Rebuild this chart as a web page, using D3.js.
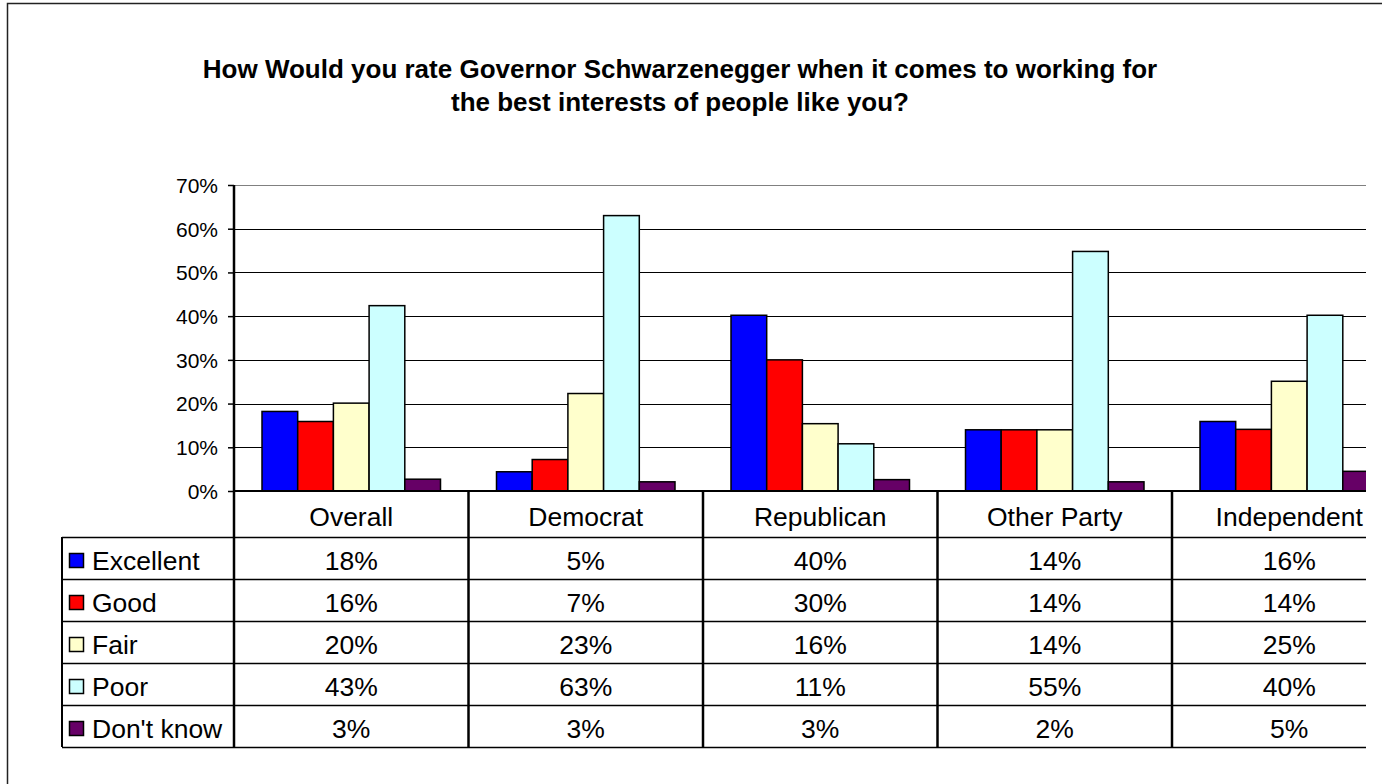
<!DOCTYPE html>
<html>
<head>
<meta charset="utf-8">
<script src="https://cdn.jsdelivr.net/npm/d3@7"></script>
<style>
  html, body { margin: 0; padding: 0; background: #fff; }
  svg { display: block; }
  text { font-family: "Liberation Sans", Arial, sans-serif; fill: #000; }
</style>
</head>
<body>
<svg id="chart" width="1382" height="784"></svg>
<script>
// ---- Data ----
const titleLines = [
  "How Would you rate Governor Schwarzenegger when it comes to working for",
  "the best interests of people like you?"
];
const categories = ["Overall", "Democrat", "Republican", "Other Party", "Independent"];
const seriesNames = ["Excellent", "Good", "Fair", "Poor", "Don't know"];
const seriesColors = ["#0000FF", "#FF0000", "#FFFFCC", "#CCFFFF", "#660066"];
// bar heights (percent), one array per series
const excellent = [18.2, 4.4, 40.2, 14.0, 15.9];
const good      = [15.9, 7.2, 30.0, 14.0, 14.1];
const fair      = [20.1, 22.3, 15.4, 14.0, 25.1];
const poor      = [42.4, 63.0, 10.8, 54.8, 40.2];
const dontKnow  = [2.7, 2.1, 2.6, 2.1, 4.5];
// data table labels as printed
const excellentLabels = ["18%", "5%", "40%", "14%", "16%"];
const goodLabels      = ["16%", "7%", "30%", "14%", "14%"];
const fairLabels      = ["20%", "23%", "16%", "14%", "25%"];
const poorLabels      = ["43%", "63%", "11%", "55%", "40%"];
const dontKnowLabels  = ["3%", "3%", "3%", "2%", "5%"];
const yTicks = [0, 10, 20, 30, 40, 50, 60, 70];

const seriesValues = [excellent, good, fair, poor, dontKnow];
const seriesLabels = [excellentLabels, goodLabels, fairLabels, poorLabels, dontKnowLabels];

// ---- Layout ----
const svg = d3.select("#chart");
const plotLeft = 234, catW = 234.5;
const plotRight = plotLeft + catW * categories.length;
const clipRight = 1366;
const y0 = 491, yTop = 185;
const headerH = 46, rowH = 42;
const tableTop = y0 + headerH;
const tableBottom = tableTop + rowH * seriesNames.length;
const tableLeft = 62;
const tableFont = "26.5px";

svg.append("rect").attr("width", 1382).attr("height", 784).attr("fill", "#fff");
// outer chart border (extends beyond the visible frame)
svg.append("rect").attr("x", 7.5).attr("y", 3.5).attr("width", 1420).attr("height", 820)
  .attr("fill", "none").attr("stroke", "#222").attr("stroke-width", 1.5);

// title
const title = svg.append("text").attr("text-anchor", "middle")
  .style("font-weight", "bold").style("font-size", "26px");
titleLines.forEach((t, i) => {
  title.append("tspan").attr("x", 680).attr("y", 78 + i * 33).text(t);
});

svg.append("defs").append("clipPath").attr("id", "clip")
  .append("rect").attr("x", 0).attr("y", 0).attr("width", clipRight).attr("height", 784);
const g = svg.append("g").attr("clip-path", "url(#clip)");

const x = d3.scaleBand().domain(categories).range([plotLeft, plotRight]).padding(0);
const inner = d3.scaleBand().domain(seriesNames).range([28, 28 + 35.7 * 5]).padding(0);
const y = d3.scaleLinear().domain([0, 70]).range([y0, yTop]);

// gridlines
g.append("g").selectAll("line").data(yTicks.filter(v => v > 0)).join("line")
  .attr("x1", plotLeft).attr("x2", plotRight)
  .attr("y1", d => Math.round(y(d)) + 0.5).attr("y2", d => Math.round(y(d)) + 0.5)
  .attr("stroke", d => d === 70 ? "#808080" : "#000").attr("stroke-width", 1.2);

// bars
const bars = [];
categories.forEach((c, ci) => {
  seriesNames.forEach((s, si) => {
    bars.push({ c, s, v: seriesValues[si][ci], color: seriesColors[si] });
  });
});
g.append("g").selectAll("rect").data(bars).join("rect")
  .attr("x", d => x(d.c) + inner(d.s))
  .attr("y", d => y(d.v))
  .attr("width", inner.bandwidth())
  .attr("height", d => y0 - y(d.v))
  .attr("fill", d => d.color)
  .attr("stroke", "#000").attr("stroke-width", 1.5);

// baseline
g.append("line").attr("x1", plotLeft).attr("x2", plotRight)
  .attr("y1", y0).attr("y2", y0).attr("stroke", "#000").attr("stroke-width", 2);

// y axis
const yAxis = d3.axisLeft(y).tickValues(yTicks).tickFormat(d => d + "%").tickSize(6).tickPadding(10);
const ya = svg.append("g").attr("transform", `translate(${plotLeft},0)`).call(yAxis);
ya.select(".domain").remove();
ya.selectAll(".tick line").attr("stroke", "#000").attr("stroke-width", 1.5);
ya.selectAll(".tick text").style("font-size", "21px").attr("dy", "0.35em")
  .style("font-family", '"Liberation Sans", Arial, sans-serif');
svg.append("line").attr("x1", plotLeft).attr("x2", plotLeft)
  .attr("y1", yTop).attr("y2", tableBottom).attr("stroke", "#000").attr("stroke-width", 2.5);

// table lines
const rowYs = d3.range(seriesNames.length + 1).map(i => tableTop + i * rowH);
g.append("g").selectAll("line").data(rowYs).join("line")
  .attr("x1", tableLeft).attr("x2", plotRight)
  .attr("y1", d => d + 0.5).attr("y2", d => d + 0.5)
  .attr("stroke", "#000").attr("stroke-width", 1.5);
g.append("line").attr("x1", tableLeft).attr("x2", tableLeft)
  .attr("y1", tableTop).attr("y2", tableBottom).attr("stroke", "#000").attr("stroke-width", 2);
g.append("g").selectAll("line").data(categories.slice(1)).join("line")
  .attr("x1", d => x(d)).attr("x2", d => x(d))
  .attr("y1", y0).attr("y2", tableBottom)
  .attr("stroke", "#000").attr("stroke-width", 2.5);

// header
g.append("g").selectAll("text").data(categories).join("text")
  .attr("x", d => x(d) + x.bandwidth() / 2).attr("y", y0 + 35)
  .attr("text-anchor", "middle").style("font-size", tableFont).text(d => d);

// legend keys + labels
seriesNames.forEach((s, si) => {
  const ry = tableTop + si * rowH;
  g.append("rect").attr("x", 69.5).attr("y", ry + 16.5).attr("width", 14).attr("height", 14)
    .attr("fill", seriesColors[si]).attr("stroke", "#000").attr("stroke-width", 1.5);
  g.append("text").attr("x", 92).attr("y", ry + 33).style("font-size", tableFont).text(s);
  g.append("g").selectAll("text").data(categories).join("text")
    .attr("x", d => x(d) + x.bandwidth() / 2).attr("y", ry + 33)
    .attr("text-anchor", "middle").style("font-size", tableFont)
    .text((d, ci) => seriesLabels[si][ci]);
});
</script>
</body>
</html>
